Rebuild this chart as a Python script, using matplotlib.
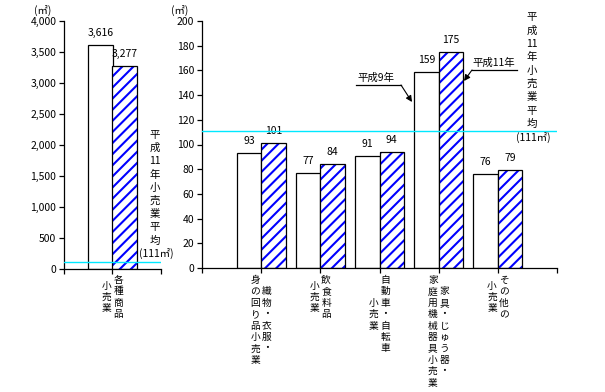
import matplotlib
matplotlib.use("Agg")
import matplotlib.pyplot as plt
from matplotlib.lines import Line2D

plt.rcParams['font.family'] = ['Noto Sans CJK JP', 'DejaVu Sans']
plt.rcParams['hatch.linewidth'] = 1.5

# ---------------- data ----------------
left_category = ["各種商品", "小売業"]          # (right column, left column)
left_h9 = [3616]
left_h11 = [3277]
left_yticks = [0, 500, 1000, 1500, 2000, 2500, 3000, 3500, 4000]

right_categories = [
    ["織物・衣服・", "身の回り品小売業"],
    ["飲食料品", "小売業"],
    ["自動車・自転車", "小売業"],
    ["家具・じゅう器・", "家庭用機械器具小売業"],
    ["その他の", "小売業"],
]
right_h9 = [93, 77, 91, 159, 76]
right_h11 = [101, 84, 94, 175, 79]
right_yticks = list(range(0, 201, 20))

average = 111
avg_text = ["平", "成", "11", "年", "小", "売", "業", "平", "均"]
avg_unit = "(111㎡)"
label_h9 = "平成9年"
label_h11 = "平成11年"

W, H = 605, 392
fig = plt.figure(figsize=(W / 100, H / 100), dpi=100)

def box(x0, x1, ytop, ybot):
    return [x0 / W, 1 - ybot / H, (x1 - x0) / W, (ybot - ytop) / H]

axL = fig.add_axes(box(64, 161, 21, 269))
axR = fig.add_axes(box(202, 557, 21, 268))

hatch_blue = "#0000FF"
cyan = "#00E8FF"
fs = 7.5

def draw_bars(ax, pos, v9, v11, w):
    xs9 = [p - w / 2 for p in pos]
    xs11 = [p + w / 2 for p in pos]
    ax.bar(xs9, v9, width=w, facecolor="white", edgecolor="black", linewidth=0.9, zorder=2)
    ax.bar(xs11, v11, width=w, facecolor="white", edgecolor=hatch_blue, hatch="///",
           linewidth=0, zorder=2)
    ax.bar(xs11, v11, width=w, facecolor="none", edgecolor="black", linewidth=0.9, zorder=3)
    for x, v in zip(xs9, v9):
        ax.annotate(f"{v:,}", xy=(x, v), xytext=(0, 12), textcoords="offset pixels",
                    ha="center", va="center", fontsize=fs)
    for x, v in zip(xs11, v11):
        ax.annotate(f"{v:,}", xy=(x, v), xytext=(0, 12), textcoords="offset pixels",
                    ha="center", va="center", fontsize=fs)

def style(ax, ymax, yticks, xmax, fmt):
    ax.set_ylim(0, ymax)
    ax.set_xlim(0, xmax)
    ax.set_yticks(yticks)
    ax.set_yticklabels([fmt(t) for t in yticks], fontsize=fs)
    ax.set_xticks(range(0, xmax + 1))
    ax.set_xticklabels([])
    for s in ("top", "right"):
        ax.spines[s].set_visible(False)
    for s in ("left", "bottom"):
        ax.spines[s].set_linewidth(0.9)
    ax.tick_params(direction="out", length=3.5, width=0.9, pad=2)
    ax.axhline(average, color=cyan, lw=1.0, zorder=4)

def cat_label(ax, pos, cols, step=11.4, first=12, dx=5.8):
    nmax = max(len(c) for c in cols)
    for ci, col in enumerate(cols):
        xo = dx if ci == 0 else -dx
        off = (nmax - len(col)) / 2 * step
        for k, ch in enumerate(col):
            ax.annotate(ch, xy=(pos, 0), xycoords=("data", "axes fraction"),
                        xytext=(xo, -(first + off + k * step)), textcoords="offset pixels",
                        ha="center", va="center", fontsize=fs - 0.5, annotation_clip=False)

# left panel
draw_bars(axL, [1], left_h9, left_h11, 0.5)
style(axL, 4000, left_yticks, 2, lambda t: f"{t:,}")
cat_label(axL, 1, left_category, first=11)

# right panel
rpos = list(range(1, len(right_h9) + 1))
draw_bars(axR, rpos, right_h9, right_h11, 0.415)
style(axR, 200, right_yticks, 6, lambda t: f"{t}")
for p, c in zip(rpos, right_categories):
    cat_label(axR, p, c)

# unit labels
fig.text(43 / W, 1 - 10 / H, "(㎡)", ha="center", va="center", fontsize=fs)
fig.text(180 / W, 1 - 10 / H, "(㎡)", ha="center", va="center", fontsize=fs)

# vertical average notes
def vnote(x, y0, step):
    for k, ch in enumerate(avg_text):
        fig.text(x / W, 1 - (y0 + k * step) / H, ch, ha="center", va="center", fontsize=fs)
    fig.text((x + 1) / W, 1 - (y0 + len(avg_text) * step) / H, avg_unit,
             ha="center", va="center", fontsize=fs)

vnote(155, 135, 13.2)
vnote(532, 17, 13.4)

# legend callouts (axes-fraction layout)
def callout(ax, text, tx, ty, ux0, ux1, uy, tip):
    ax.text(tx, ty, text, transform=ax.transAxes, ha="center", va="center", fontsize=fs)
    ax.add_line(Line2D([ux0, ux1], [uy, uy], transform=ax.transAxes, color="black", lw=0.9,
                       clip_on=False))
    start = (ux1, uy) if tip[0] > ux1 else (ux0, uy)
    ax.annotate("", xy=tip, xycoords="axes fraction", xytext=start, textcoords="axes fraction",
                arrowprops=dict(arrowstyle="-|>", color="black", lw=0.8, mutation_scale=9,
                                shrinkA=0, shrinkB=0))

def fx(px):
    return (px - 202) / 355

def fy(py):
    return (268 - py) / 247

callout(axR, label_h9, fx(376), fy(78), fx(356), fx(401), fy(85), (fx(412), fy(102)))
callout(axR, label_h11, fx(494), fy(63), fx(472), fx(517), fy(70), (fx(464), fy(81)))

fig.savefig("out.png", dpi=100)
